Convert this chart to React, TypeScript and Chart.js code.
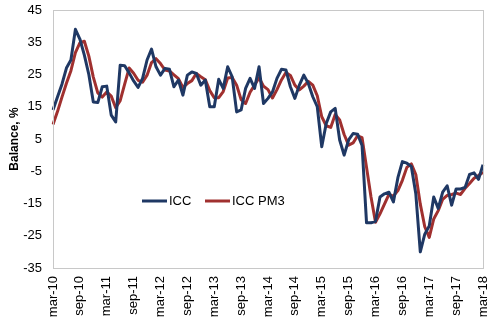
import React, { useEffect, useRef } from 'react';
import { Chart, registerables } from 'chart.js';

Chart.register(...registerables);

const MONTH_NAMES = ['jan', 'feb', 'mar', 'apr', 'may', 'jun', 'jul', 'aug', 'sep', 'oct', 'nov', 'dec'];
const START_YEAR = 2010;
const START_MONTH = 2; // mar
const MONTH_COUNT = 97; // mar-10 .. mar-18
const LABEL_EVERY = 6;

const categories: string[] = [];
for (let k = 0; k < MONTH_COUNT; k++) {
  const m = (START_MONTH + k) % 12;
  const y = START_YEAR + Math.floor((START_MONTH + k) / 12);
  categories.push(`${MONTH_NAMES[m]}-${String(y).slice(2)}`);
}

const iccValues = [
  14, 18, 22, 27, 29.5, 39, 36, 31, 25, 16.5, 16.3, 21.2,
  21.4, 12.4, 10.3, 27.9, 27.7, 25.5, 23, 21, 23.8, 29.5, 32.9, 27.4,
  24.8, 26.9, 26.6, 21.2, 23.3, 18.6, 24.8, 25.8, 25.3, 21.7, 23.3, 15,
  15, 23.5, 20.7, 27.4, 24.3, 13.4, 14, 20.7, 23.8, 20.7, 27.4, 16,
  17.6, 19.6, 23.8, 26.6, 26.4, 21.2, 17.6, 21.7, 24.8, 22.2, 18.1, 15,
  2.6, 9.8, 13.4, 14.5, 4.7, 0, 4.7, 6.7, 6.5, 3, -21, -21,
  -20.5, -13, -12, -11.5, -14.5, -7, -2, -2.5, -3.5, -12, -30, -24.5,
  -22, -13, -16.5, -11.5, -9.5, -15.5, -10.5, -10.5, -10, -6, -5.5, -7.5,
  -3,
];

const iccPm3Values = [
  9.5, 13.5, 18, 22.3, 26.2, 31.8, 34.8, 35.3, 30.7, 24.2, 19.3, 18,
  19.6, 18.3, 14.7, 16.9, 22, 27, 25.4, 23.2, 22.6, 24.8, 28.7, 29.9,
  28.4, 26.4, 26.1, 24.9, 23.7, 21, 22.2, 23.1, 25.3, 24.3, 23.4, 20,
  17.8, 17.8, 19.7, 23.9, 24.1, 21.7, 17.2, 16, 19.5, 21.7, 24, 21.4,
  20.3, 17.7, 20.3, 23.3, 25.6, 24.7, 21.7, 20.2, 21.4, 22.9, 21.7, 18.4,
  11.9, 9.1, 8.6, 12.6, 10.9, 6.4, 3.1, 3.8, 6, 5.4, -3.8, -13,
  -20.8, -18.2, -15.2, -12.2, -12.7, -11, -7.8, -3.8, -2.7, -6, -15.2, -22.2,
  -25.5, -19.8, -17.2, -13.7, -12.5, -12.2, -11.8, -12.2, -10.3, -8.8, -7.2, -6.3,
  -5.3,
];

const Y_MIN = -35;
const Y_MAX = 45;
const Y_STEP = 10;

const SERIES_NAMES = ['ICC', 'ICC PM3'];
const SERIES_COLORS = ['#1f3864', '#a0302f'];
const Y_TITLE = 'Balance, %';

const FONT = "'Liberation Sans', Arial, Helvetica, sans-serif";

const framePlugin = {
  id: 'frameAndLegend',
  afterDraw(chart: any) {
    const { ctx, chartArea } = chart;
    const { left, top, right, bottom } = chartArea;
    ctx.save();
    ctx.strokeStyle = '#c8c8c8';
    ctx.lineWidth = 1;
    ctx.strokeRect(Math.round(left) + 0.5, Math.round(top) + 0.5, Math.round(right - left), Math.round(bottom - top));
    // legend
    const ly = top + 191;
    const items = [
      { x: left + 89, name: SERIES_NAMES[0], color: SERIES_COLORS[0] },
      { x: left + 152, name: SERIES_NAMES[1], color: SERIES_COLORS[1] },
    ];
    ctx.font = `13px ${FONT}`;
    ctx.textBaseline = 'middle';
    ctx.textAlign = 'left';
    for (const it of items) {
      ctx.strokeStyle = it.color;
      ctx.lineWidth = 3;
      ctx.beginPath();
      ctx.moveTo(it.x, ly);
      ctx.lineTo(it.x + 25, ly);
      ctx.stroke();
      ctx.fillStyle = '#000';
      ctx.fillText(it.name, it.x + 27, ly + 0.5);
    }
    ctx.restore();
  },
};

export default function App() {
  const canvasRef = useRef<HTMLCanvasElement | null>(null);

  useEffect(() => {
    document.body.style.margin = '0';
    const canvas = canvasRef.current;
    if (!canvas) return;
    const chart = new Chart(canvas, {
      type: 'line',
      data: {
        labels: categories,
        datasets: [
          {
            label: SERIES_NAMES[0],
            data: iccValues,
            borderColor: SERIES_COLORS[0],
            backgroundColor: SERIES_COLORS[0],
            borderWidth: 3,
            pointRadius: 0,
            tension: 0,
            borderJoinStyle: 'round',
          },
          {
            label: SERIES_NAMES[1],
            data: iccPm3Values,
            borderColor: SERIES_COLORS[1],
            backgroundColor: SERIES_COLORS[1],
            borderWidth: 3,
            pointRadius: 0,
            tension: 0,
            borderJoinStyle: 'round',
          },
        ],
      },
      options: {
        animation: false,
        responsive: false,
        maintainAspectRatio: false,
        layout: { padding: { top: 10, right: 17, left: 0, bottom: 0 } },
        plugins: {
          legend: { display: false },
          tooltip: { enabled: false },
        },
        scales: {
          x: {
            type: 'category',
            offset: false,
            grid: { display: false, drawTicks: false },
            border: { display: false },
            ticks: {
              autoSkip: false,
              maxRotation: 90,
              minRotation: 90,
              padding: 8,
              color: '#000',
              font: { family: FONT, size: 13 },
              callback: (_v: any, i: number) => (i % LABEL_EVERY === 0 ? categories[i] : ''),
            },
            afterFit: (s: any) => {
              s.height = 60;
              s.paddingLeft = 0;
              s.paddingRight = 0;
            },
          },
          y: {
            min: Y_MIN,
            max: Y_MAX,
            grid: {
              drawTicks: false,
              color: (c: any) => (c.tick && c.tick.value === 0 ? '#a6a6a6' : 'rgba(0,0,0,0)'),
              lineWidth: 1.5,
            },
            border: { display: false },
            ticks: {
              stepSize: Y_STEP,
              padding: 11,
              color: '#000',
              font: { family: FONT, size: 13 },
            },
            title: {
              display: true,
              text: Y_TITLE,
              color: '#000',
              font: { family: FONT, size: 12, weight: 'bold' },
              padding: { top: 7, bottom: 0 },
            },
            afterFit: (s: any) => {
              s.width = 53;
              s.paddingTop = 0;
              s.paddingBottom = 0;
            },
          },
        },
      },
      plugins: [framePlugin],
    });
    return () => chart.destroy();
  }, []);

  return (
    <div style={{ position: 'relative', width: 500, height: 328 }}>
      <canvas ref={canvasRef} width={500} height={328} style={{ display: 'block' }} />
    </div>
  );
}
